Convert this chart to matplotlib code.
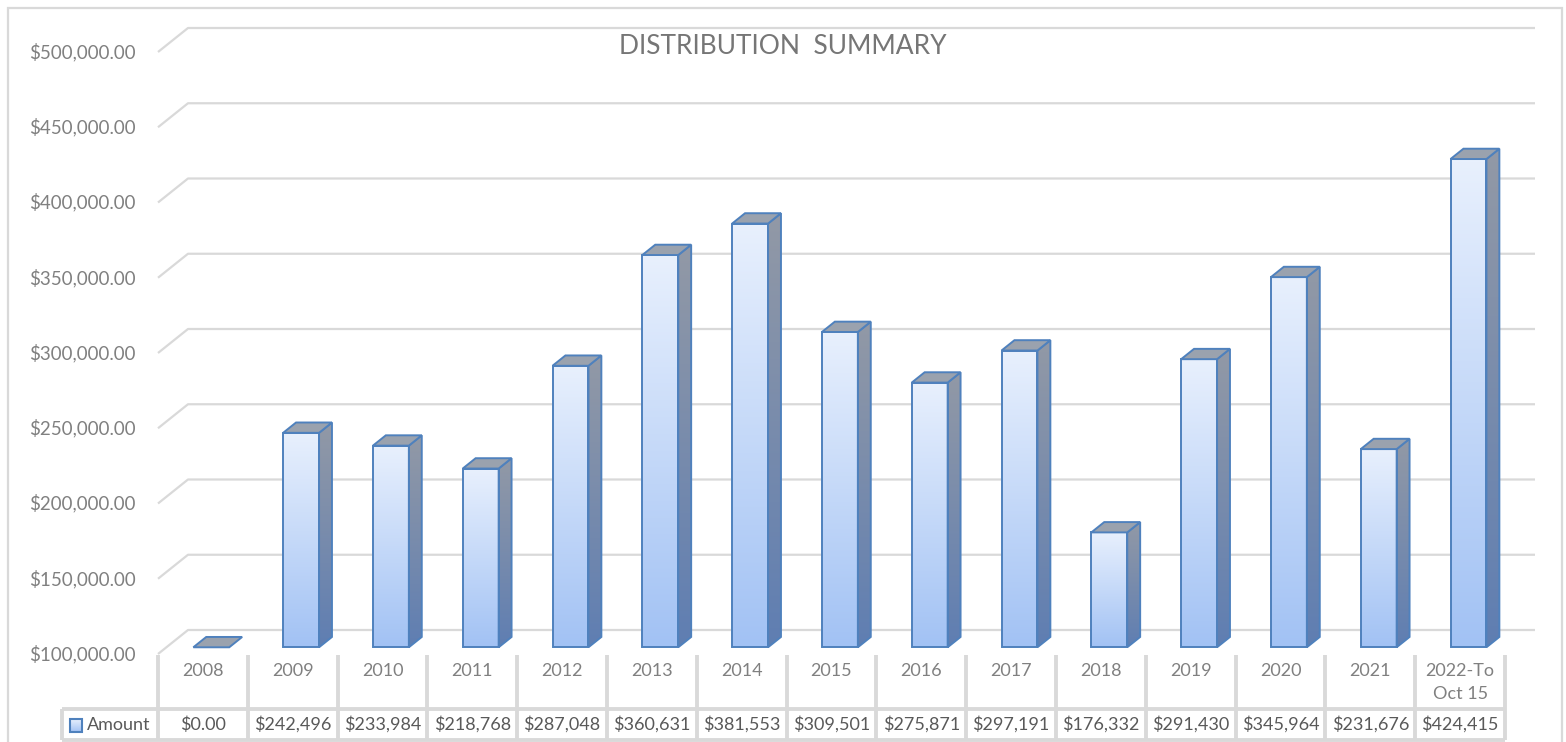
import numpy as np
import matplotlib.pyplot as plt
from matplotlib.patches import Polygon, Rectangle
from matplotlib.colors import LinearSegmentedColormap

plt.rcParams['font.family'] = ['Lato', 'DejaVu Sans']

title = 'DISTRIBUTION  SUMMARY'
series_name = 'Amount'
categories = ['2008', '2009', '2010', '2011', '2012', '2013', '2014', '2015',
              '2016', '2017', '2018', '2019', '2020', '2021', '2022-To\nOct 15']
amounts = [0, 242496, 233984, 218768, 287048, 360631, 381553, 309501,
           275871, 297191, 176332, 291430, 345964, 231676, 424415]
value_labels = ['$0.00', '$242,496', '$233,984', '$218,768', '$287,048', '$360,631',
                '$381,553', '$309,501', '$275,871', '$297,191', '$176,332', '$291,430',
                '$345,964', '$231,676', '$424,415']
y_ticks = [100000, 150000, 200000, 250000, 300000, 350000, 400000, 450000, 500000]

W, H = 1566, 742
fig = plt.figure(figsize=(W / 100, H / 100), dpi=100)
ax = fig.add_axes([0, 0, 1, 1])
ax.axis('off')

# layout in pixels -> data units
COL_PX = 89.8          # width of one category column
STEP_PX = 75.25        # pixels per 50,000
LEFT_PX = 158          # left edge of first column
FLOOR_PX = 654         # front edge of the floor (y_min)
y_min = y_ticks[0]
y_step = y_ticks[1] - y_ticks[0]


def px_x(p):
    return -0.5 + (p - LEFT_PX) / COL_PX


def px_y(p):
    return y_min + (FLOOR_PX - p) / STEP_PX * y_step


DX = 30 / COL_PX                 # depth of the 3d box
DY = 24 / STEP_PX * y_step
n = len(categories)
x_left, x_right = -0.5, n - 0.5

grid_c = '#d9d9d9'
text_c = '#808080'
edge_c = '#4f81bd'
fs = 13.5
fs_tab = 13

# gridlines with the back wall
for v in y_ticks:
    ax.plot([x_left, x_left + DX, x_right + DX], [v, v + DY, v + DY],
            color=grid_c, lw=1.6, zorder=1, solid_capstyle='butt')
    ax.text(px_x(136), v, f'${v:,.2f}', ha='right', va='center',
            fontsize=fs, color=text_c)

# 3d bars
front_cmap = LinearSegmentedColormap.from_list('front', ['#a2c2f4', '#e8f0fd'])
side_cmap = LinearSegmentedColormap.from_list('side', ['#5f7eb2', '#9299a6'])
grad = np.linspace(0, 1, 128).reshape(-1, 1)
bw = 0.4
f0 = 0.28              # front plane of the bars inside the depth
bd = 0.43              # bar depth as fraction of the depth
ddx, ddy = bd * DX, bd * DY
for i, v in enumerate(amounts):
    x0 = i - bw / 2 + f0 * DX
    x1 = x0 + bw
    yb = y_min + f0 * DY
    yt = max(v, y_min) + f0 * DY
    if yt > yb:
        rect = Rectangle((x0, yb), bw, yt - yb, facecolor='none', edgecolor=edge_c,
                         lw=1.4, zorder=4, joinstyle='miter')
        ax.add_patch(rect)
        im = ax.imshow(grad, extent=[x0, x1, yb, yt], origin='lower', cmap=front_cmap,
                       aspect='auto', zorder=3, interpolation='bilinear')
        im.set_clip_path(rect)
        side = Polygon([(x1, yb), (x1, yt), (x1 + ddx, yt + ddy), (x1 + ddx, yb + ddy)],
                       closed=True, facecolor='none', edgecolor=edge_c, lw=1.4,
                       zorder=4, joinstyle='miter')
        ax.add_patch(side)
        im2 = ax.imshow(grad, extent=[x1, x1 + ddx, yb, yt + ddy], origin='lower',
                        cmap=side_cmap, aspect='auto', zorder=3, interpolation='bilinear')
        im2.set_clip_path(side)
    top = Polygon([(x0, yt), (x1, yt), (x1 + ddx, yt + ddy), (x0 + ddx, yt + ddy)],
                  closed=True, facecolor='#9aa2ae', edgecolor=edge_c, lw=1.4,
                  zorder=4, joinstyle='miter')
    ax.add_patch(top)

# data table
row1_top, row_mid, row2_bot = px_y(655), px_y(709), px_y(740)
leg_left = px_x(62)
tlw = 2.8
for k in range(n + 1):
    xk = x_left + k
    ax.plot([xk, xk], [row1_top, row2_bot], color=grid_c, lw=tlw, zorder=2,
            solid_capstyle='butt')
ax.plot([leg_left, leg_left], [row_mid, row2_bot], color=grid_c, lw=tlw, zorder=2,
        solid_capstyle='butt')
for yy in (row_mid, row2_bot):
    ax.plot([leg_left, x_right], [yy, yy], color=grid_c, lw=tlw, zorder=2,
            solid_capstyle='butt')

for i, (c, lab) in enumerate(zip(categories, value_labels)):
    ax.text(i, px_y(663), c, ha='center', va='top', fontsize=fs_tab, color=text_c,
            linespacing=1.55)
    ax.text(i, (row_mid + row2_bot) / 2, lab, ha='center', va='center',
            fontsize=fs_tab, color='#595959')

# legend key in the table
kx0, kx1 = px_x(70), px_x(82)
ky0, ky1 = px_y(732), px_y(719)
key = Rectangle((kx0, ky0), kx1 - kx0, ky1 - ky0, facecolor='none', edgecolor=edge_c,
                lw=1.5, zorder=5)
ax.add_patch(key)
imk = ax.imshow(grad, extent=[kx0, kx1, ky0, ky1], origin='lower', cmap=front_cmap,
                aspect='auto', zorder=4)
imk.set_clip_path(key)
ax.text(px_x(87), (row_mid + row2_bot) / 2, series_name, ha='left', va='center',
        fontsize=fs_tab, color='#595959')

ax.set_xlim(px_x(0), px_x(W))
ax.set_ylim(px_y(H), px_y(0))

# title and chart frame
fig.text(0.5, 1 - 47 / H, title, ha='center', va='center', fontsize=19, color='#767676')
fig.add_artist(Rectangle((8 / W, -0.05), (1562 - 8) / W, 1 - 8 / H + 0.05,
                         transform=fig.transFigure, facecolor='none',
                         edgecolor=grid_c, lw=1.6))

fig.savefig('out.png', dpi=100)
